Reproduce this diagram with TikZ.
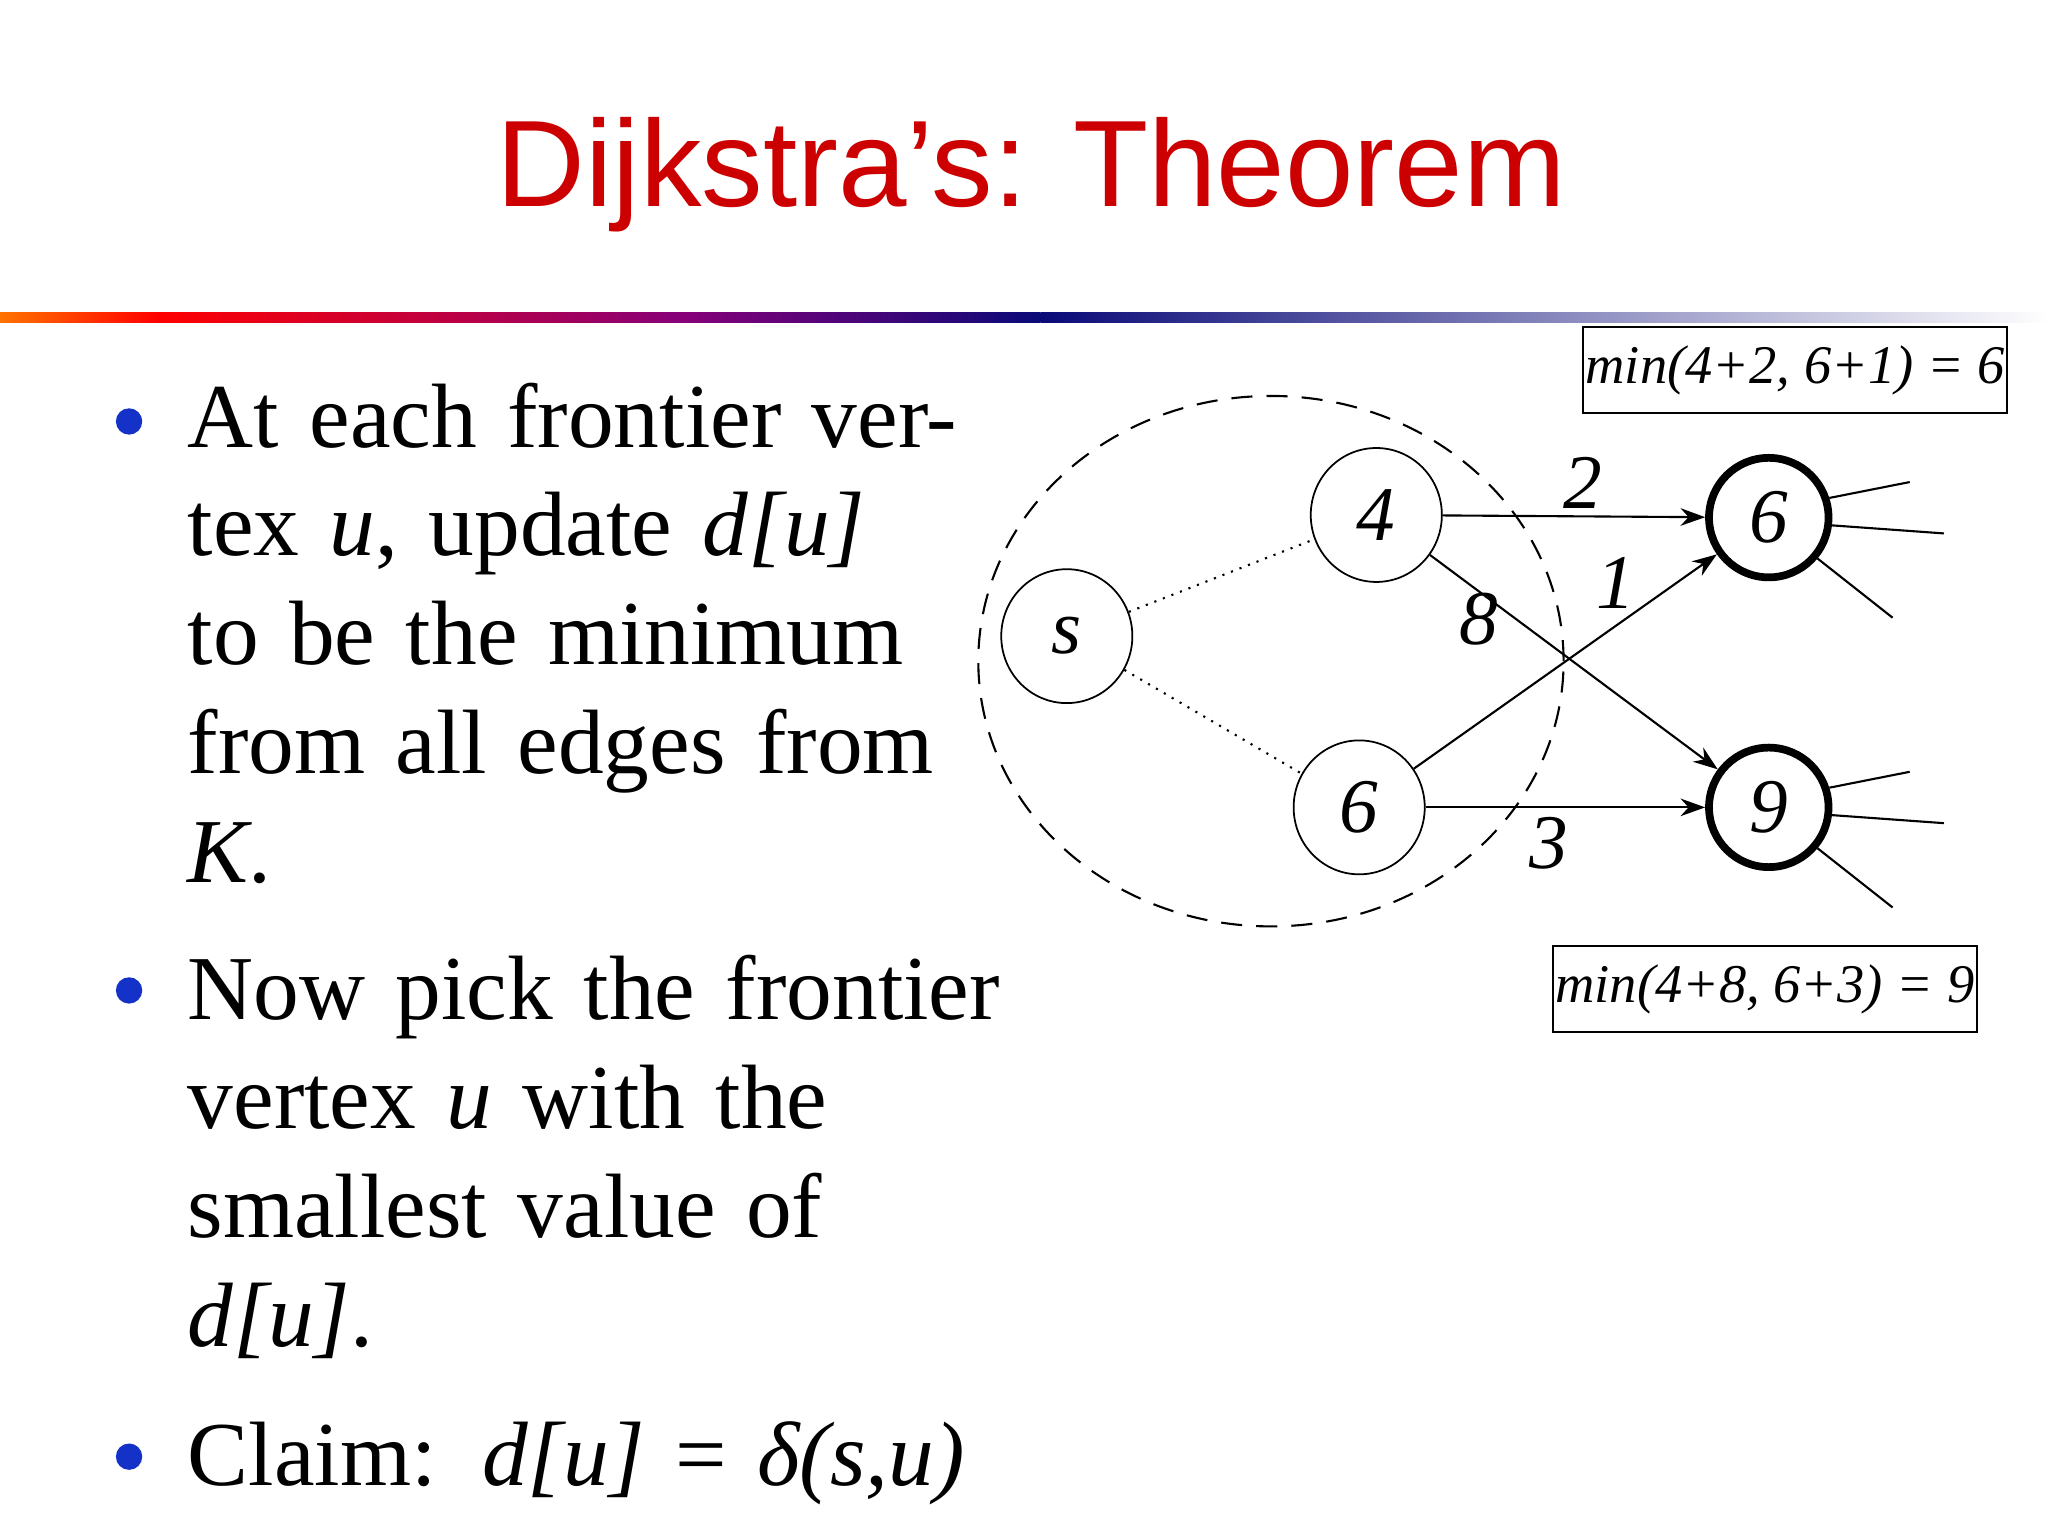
\documentclass[tikz,border=0pt]{standalone}
\usepackage{fontspec}
\setmainfont{Liberation Serif}
\newfontfamily\titlefont{Liberation Sans}
\usetikzlibrary{arrows.meta,shapes.geometric}
\definecolor{ttl}{RGB}{204,0,0}
\definecolor{bul}{RGB}{20,50,200}
\begin{document}
\begin{tikzpicture}[x=0.01317cm,y=-0.01317cm,
  vtx/.style={draw,ellipse,line width=0.5pt,minimum width=37.3pt,minimum height=38.1pt,inner sep=0,font=\fontsize{22}{24}\selectfont\itshape},
  hot/.style={draw,circle,line width=2.2pt,minimum size=34pt,inner sep=0,font=\fontsize{22}{24}\selectfont\itshape},
  lbl/.style={font=\fontsize{22}{24}\selectfont\itshape},
  box/.style={draw,line width=0.6pt,inner sep=0,minimum width=120.6pt,minimum height=24.3pt,font=\fontsize{15.5}{17}\selectfont\itshape},
  arr/.style={-{Stealth[length=7pt,width=5pt]},line width=0.6pt},
  dot/.style={circle,fill=bul,minimum size=7.5pt,inner sep=0},
  btxt/.style={anchor=north west,align=left,text width=232pt,font=\fontsize{26}{31}\selectfont,inner sep=0}]
\useasboundingbox (0,0) rectangle (1555,1166);
\node[font=\titlefont\fontsize{35}{40}\selectfont,text=ttl,anchor=base] (title) at (783,157) {Dijkstra’s: Theorem};
\shade[left color=orange!90!red,right color=red] (0,237) rectangle (120,245);
\shade[left color=red,right color=purple!70!blue] (120,237) rectangle (520,245);
\shade[left color=purple!70!blue,right color={rgb,255:red,10;green,10;blue,120}] (520,237) rectangle (790,245);
\shade[left color={rgb,255:red,10;green,10;blue,120},right color=white] (790,237) rectangle (1555,245);
\node[dot] (b1) at (98,320) {};
\node[dot] (b2) at (98,752) {};
\node[dot] (b3) at (98,1106) {};
\node[btxt] (t1) at (142,290) {At each frontier vertex \textit{u}, update \textit{d[u]} to be the minimum from all edges from \textit{K}.};
\node[btxt] (t2) at (142,725) {Now pick the frontier vertex \textit{u} with the smallest value of \textit{d[u]}.};
\node[btxt] (t3) at (142,1079) {Claim: \textit{d[u]} = \textit{δ(s,u)}};
\node[draw,ellipse,minimum width=166.5pt,minimum height=150.9pt,line width=0.6pt,dash pattern=on 6pt off 4pt] (K) at (965,502) {};
\node[vtx] (s) at (810,483) {s};
\node[vtx] (a) at (1045,391) {4};
\node[vtx] (b) at (1032,613) {6};
\node[hot] (c) at (1343,393) {6};
\node[hot] (d) at (1343,613) {9};
\draw[dotted,line width=0.6pt] (s) -- (a);
\draw[dotted,line width=0.6pt] (s) -- (b);
\draw[arr] (a) -- (c);
\draw[arr] (a) -- (d);
\draw[arr] (b) -- (c);
\draw[arr] (b) -- (d);
\node[lbl] (l2) at (1202,367) {2};
\node[lbl] (l8) at (1123,470) {8};
\node[lbl] (l1) at (1227,443) {1};
\node[lbl] (l3) at (1176,640) {3};
\foreach \n/\dy in {c/0,d/220}{
  \coordinate (e1\n) at (1450,366+\dy);
  \coordinate (e2\n) at (1476,405+\dy);
  \coordinate (e3\n) at (1437,469+\dy);
  \draw[line width=0.6pt] (\n.18) -- (e1\n);
  \draw[line width=0.6pt] (\n.-7) -- (e2\n);
  \draw[line width=0.6pt] (\n.-40) -- (e3\n);
}
\node[box] (m1) at (1363,281) {min(4+2, 6+1) = 6};
\node[box] (m2) at (1340,751) {min(4+8, 6+3) = 9};
\end{tikzpicture}
\end{document}
